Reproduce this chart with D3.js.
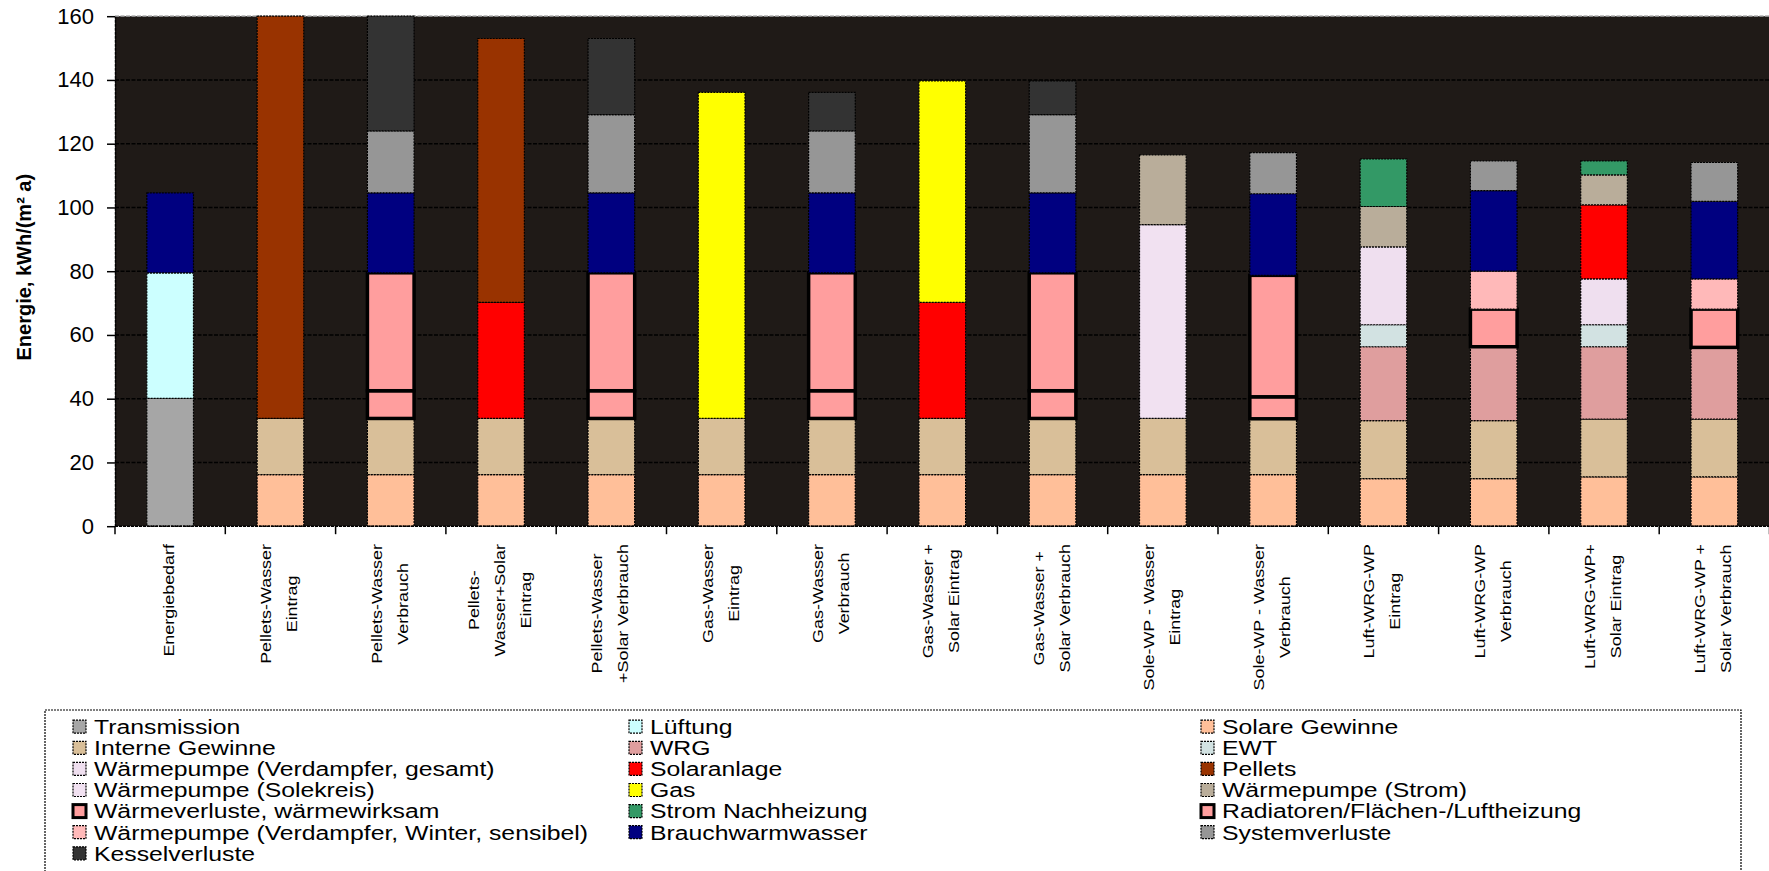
<!DOCTYPE html>
<html>
<head>
<meta charset="utf-8">
<script src="https://cdn.jsdelivr.net/npm/d3@7"></script>
<style>
  body { margin: 0; background: #fff; }
  svg { display: block; font-family: "Liberation Sans", Arial, sans-serif; }
</style>
</head>
<body>
<svg id="chart" width="1769" height="871"></svg>
<script>
// categories (x axis), '\n' = line break in the tick label
const categories = [
    'Energiebedarf',
    'Pellets-Wasser\nEintrag',
    'Pellets-Wasser\nVerbrauch',
    'Pellets-\nWasser+Solar\nEintrag',
    'Pellets-Wasser\n+Solar Verbrauch',
    'Gas-Wasser\nEintrag',
    'Gas-Wasser\nVerbrauch',
    'Gas-Wasser +\nSolar Eintrag',
    'Gas-Wasser +\nSolar Verbrauch',
    'Sole-WP - Wasser\nEintrag',
    'Sole-WP - Wasser\nVerbrauch',
    'Luft-WRG-WP\nEintrag',
    'Luft-WRG-WP\nVerbrauch',
    'Luft-WRG-WP+\nSolar Eintrag',
    'Luft-WRG-WP +\nSolar Verbrauch'
];

const yTicks = [0, 20, 40, 60, 80, 100, 120, 140, 160];

// series values, kWh/(m² a), one entry per category
const transmission     = [40.1, 0, 0, 0, 0, 0, 0, 0, 0, 0, 0, 0, 0, 0, 0];
const lueftung         = [39.4, 0, 0, 0, 0, 0, 0, 0, 0, 0, 0, 0, 0, 0, 0];
const solareGewinne    = [0, 16.2, 16.2, 16.2, 16.2, 16.2, 16.2, 16.2, 16.2, 16.2, 16.2, 14.9, 14.9, 15.5, 15.5];
const interneGewinne   = [0, 17.6, 17.6, 17.6, 17.6, 17.6, 17.6, 17.6, 17.6, 17.6, 17.5, 18.2, 18.2, 18.1, 18.1];
const wrg              = [0, 0, 0, 0, 0, 0, 0, 0, 0, 0, 0, 23.2, 23.2, 22.7, 22.5];
const ewt              = [0, 0, 0, 0, 0, 0, 0, 0, 0, 0, 0, 6.9, 0, 6.9, 0];
const wpGesamt         = [0, 0, 0, 0, 0, 0, 0, 0, 0, 0, 0, 24.4, 0, 14.4, 0];
const solaranlage      = [0, 0, 0, 36.4, 0, 0, 0, 36.4, 0, 0, 0, 0, 0, 23.2, 0];
const pellets          = [0, 126.2, 0, 82.8, 0, 0, 0, 0, 0, 0, 0, 0, 0, 0, 0];
const wpSolekreis      = [0, 0, 0, 0, 0, 0, 0, 0, 0, 60.8, 0, 0, 0, 0, 0];
const gas              = [0, 0, 0, 0, 0, 102.3, 0, 69.5, 0, 0, 0, 0, 0, 0, 0];
const wpStrom          = [0, 0, 0, 0, 0, 0, 0, 0, 0, 21.9, 0, 12.7, 0, 9.4, 0];
const waermeverluste   = [0, 0, 8.7, 0, 8.7, 0, 8.7, 0, 8.7, 0, 6.9, 0, 0, 0, 0];
const stromNachheizung = [0, 0, 0, 0, 0, 0, 0, 0, 0, 0, 0, 14.9, 0, 4.4, 0];
const radiatoren       = [0, 0, 37.0, 0, 37.0, 0, 37.0, 0, 37.0, 0, 38.1, 0, 11.8, 0, 12.0];
const wpSensibel       = [0, 0, 0, 0, 0, 0, 0, 0, 0, 0, 0, 0, 11.9, 0, 9.5];
const brauchwarmwasser = [25.1, 0, 25.1, 0, 25.1, 0, 25.1, 0, 25.1, 0, 25.6, 0, 25.3, 0, 24.3];
const systemverluste   = [0, 0, 19.4, 0, 24.5, 0, 19.4, 0, 24.5, 0, 12.9, 0, 9.3, 0, 12.2];
const kesselverluste   = [0, 0, 36.0, 0, 23.9, 0, 12.1, 0, 10.6, 0, 0, 0, 0, 0, 0];

const seriesNames = [
    'Transmission', 'Lüftung', 'Solare Gewinne',
    'Interne Gewinne', 'WRG', 'EWT',
    'Wärmepumpe (Verdampfer, gesamt)', 'Solaranlage', 'Pellets',
    'Wärmepumpe (Solekreis)', 'Gas', 'Wärmepumpe (Strom)',
    'Wärmeverluste, wärmewirksam', 'Strom Nachheizung', 'Radiatoren/Flächen-/Luftheizung',
    'Wärmepumpe (Verdampfer, Winter, sensibel)', 'Brauchwarmwasser', 'Systemverluste',
    'Kesselverluste'
];
const seriesValues = [
    transmission, lueftung, solareGewinne, interneGewinne, wrg, ewt, wpGesamt,
    solaranlage, pellets, wpSolekreis, gas, wpStrom, waermeverluste, stromNachheizung,
    radiatoren, wpSensibel, brauchwarmwasser, systemverluste, kesselverluste
];

// styles
const seriesColors = [
    '#a6a6a6', '#ccffff', '#ffbf99', '#d9bf99', '#df9e9e', '#d2e2e2', '#efdfef',
    '#ff0000', '#993300', '#f1e1f1', '#ffff00', '#b9ad9a', '#ff9e9e', '#339966',
    '#ff9e9e', '#ffb9b9', '#000080', '#969696', '#333333'
];
const thickSeries = ['Wärmeverluste, wärmewirksam', 'Radiatoren/Flächen-/Luftheizung'];

const plot = { left: 115, right: 1769.5, top: 16.2, bottom: 526.2 };
const wide = 1.18; // the original font runs a bit wider than Arial

const svg = d3.select('#chart');

const x = d3.scaleBand()
    .domain(categories)
    .range([plot.left, plot.right])
    .padding(0);
const barW = x.bandwidth() * 0.423;

const y = d3.scaleLinear()
    .domain([0, 160])
    .range([plot.bottom, plot.top]);

// plot background
svg.append('rect')
    .attr('x', plot.left)
    .attr('y', plot.top)
    .attr('width', plot.right - plot.left)
    .attr('height', plot.bottom - plot.top)
    .attr('fill', '#1f1a17');

// gridlines
svg.append('g')
    .selectAll('line')
    .data(yTicks.filter(t => t > 0))
    .enter()
    .append('line')
    .attr('x1', plot.left)
    .attr('x2', plot.right)
    .attr('y1', d => y(d))
    .attr('y2', d => y(d))
    .attr('stroke', d => d === 160 ? '#8a8a8a' : '#000')
    .attr('stroke-width', 1.5)
    .attr('stroke-dasharray', '4,1.5');

// stacked bars
const stack = d3.stack()
    .keys(d3.range(seriesNames.length))
    .value((i, k) => seriesValues[k][i]);
const layers = stack(d3.range(categories.length));

const bars = svg.append('g');
layers.forEach(layer => {
    const name = seriesNames[layer.key];
    const thick = thickSeries.includes(name);
    const segs = layer.map((d, i) => ({ y0: d[0], y1: d[1], cat: categories[i] }))
        .filter(d => d.y1 - d.y0 > 0);
    bars.selectAll(null)
        .data(segs)
        .enter()
        .append('rect')
        .attr('x', d => x(d.cat) + (x.bandwidth() - barW) / 2)
        .attr('y', d => y(d.y1))
        .attr('width', barW)
        .attr('height', d => y(d.y0) - y(d.y1))
        .attr('fill', seriesColors[layer.key])
        .attr('stroke', '#000')
        .attr('stroke-width', thick ? 3.5 : 1.2)
        .attr('stroke-dasharray', thick ? null : '2,1');
});

// y axis
const yAxis = svg.append('g')
    .attr('transform', `translate(${plot.left},0)`)
    .call(d3.axisLeft(y).tickValues(yTicks).tickSize(8).tickPadding(13).tickSizeOuter(0));
yAxis.select('.domain').attr('stroke', '#000').attr('stroke-width', 1.5).attr('stroke-dasharray', '3,1');
yAxis.selectAll('.tick line').attr('stroke', '#000').attr('stroke-width', 1.5);
yAxis.selectAll('.tick text')
    .attr('fill', '#000')
    .style('font-size', '22px')
    .style('font-family', '"Liberation Sans", Arial, sans-serif');

// x axis line and ticks at category boundaries
svg.append('line')
    .attr('x1', plot.left).attr('x2', plot.right)
    .attr('y1', plot.bottom).attr('y2', plot.bottom)
    .attr('stroke', '#000').attr('stroke-width', 1.5)
    .attr('stroke-dasharray', '3,1');
svg.append('g')
    .selectAll('line')
    .data(categories.map(c => x(c)).concat([x.range()[1]]))
    .enter()
    .append('line')
    .attr('x1', d => d).attr('x2', d => d)
    .attr('y1', plot.bottom).attr('y2', plot.bottom + 8)
    .attr('stroke', '#000').attr('stroke-width', 1.5);

// x tick labels, rotated, lines centred on each other
const labelTop = 544;
const lineGap = 26;
categories.forEach(c => {
    const lines = c.split('\n');
    const cx = x(c) + x.bandwidth() / 2;
    const texts = lines.map((ln, i) => svg.append('text')
        .attr('text-anchor', 'middle')
        .style('font-size', '15.2px')
        .attr('fill', '#000')
        .text(ln));
    const maxLen = d3.max(texts, t => t.node().getComputedTextLength()) * wide;
    texts.forEach((t, i) => {
        const off = (i - (lines.length - 1) / 2) * lineGap + 4;
        t.attr('transform',
            `translate(${cx + off},${labelTop + maxLen / 2}) rotate(-90) scale(${wide},1)`);
    });
});

// y axis title
svg.append('text')
    .attr('transform', `translate(31,${(plot.top + plot.bottom) / 2 - 4}) rotate(-90)`)
    .attr('text-anchor', 'middle')
    .style('font-size', '20px')
    .style('font-weight', 'bold')
    .text('Energie, kWh/(m² a)');

// legend
const legend = svg.append('g');
legend.append('rect')
    .attr('x', 45).attr('y', 710)
    .attr('width', 1696).attr('height', 200)
    .attr('fill', '#fff')
    .attr('stroke', '#000')
    .attr('stroke-width', 1.2)
    .attr('stroke-dasharray', '2,1');

const colX = [73, 629, 1201];
const items = legend.selectAll('.legend-item')
    .data(seriesNames)
    .enter()
    .append('g')
    .attr('class', 'legend-item')
    .attr('transform', (d, i) => `translate(${colX[i % 3]},${726.7 + Math.floor(i / 3) * 21.1})`);

items.append('rect')
    .attr('x', 0).attr('y', -6.5)
    .attr('width', 13).attr('height', 13)
    .attr('fill', (d, i) => seriesColors[i])
    .attr('stroke', '#000')
    .attr('stroke-width', d => thickSeries.includes(d) ? 3 : 1.2)
    .attr('stroke-dasharray', d => thickSeries.includes(d) ? null : '2,1');

items.append('text')
    .attr('transform', `translate(21,0) scale(${wide},1)`)
    .attr('dy', '0.35em')
    .style('font-size', '21px')
    .text(d => d);
</script>
</body>
</html>
